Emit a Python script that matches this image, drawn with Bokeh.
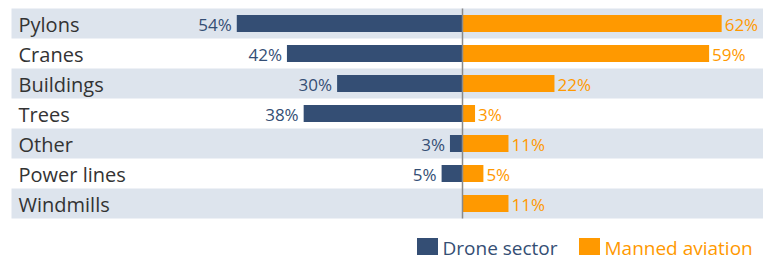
from bokeh.plotting import figure
from bokeh.models import Range1d, ColumnDataSource
from bokeh.core.properties import value
from bokeh.embed import file_html
from bokeh.resources import INLINE

categories = ["Pylons", "Cranes", "Buildings", "Trees", "Other", "Power lines", "Windmills"]
drone = [54, 42, 30, 38, 3, 5, 0]
manned = [62, 59, 22, 3, 11, 5, 11]
series_names = ["Drone sector", "Manned aviation"]

NAVY = "#344e74"
ORANGE = "#ff9900"
BAND = "#dde4ed"
FONT = "Open Sans"

W, H = 763, 260
PX_PER = 4.18          # pixels per percent
CENTER_PX = 462        # center line position within the plot
x0 = -CENTER_PX / PX_PER
x1 = (W - CENTER_PX) / PX_PER
ROW = 30
y_top = -23 / ROW
y_bot = y_top + H / ROW

p = figure(width=W, height=H, output_backend="svg", toolbar_location=None,
           x_range=Range1d(x0, x1), y_range=Range1d(y_bot, y_top),
           min_border=0, outline_line_color=None)
p.axis.visible = False
p.grid.visible = False
p.background_fill_color = "white"
p.border_fill_color = "white"

n = len(categories)
ys = list(range(n))
src = ColumnDataSource(dict(
    y=ys, cat=categories,
    dneg=[-v for v in drone], man=manned,
    dlab=[f"{v}%" if v > 0 else "" for v in drone],
    mlab=[f"{v}%" for v in manned],
    zero=[0] * n,
))

# alternating background bands
band_rows = [i for i in ys if i % 2 == 0]
p.quad(left=[x0 + 11 / PX_PER] * len(band_rows), right=[x1] * len(band_rows),
       top=[i - 0.5 for i in band_rows], bottom=[i + 0.5 for i in band_rows],
       fill_color=BAND, line_color=None)

# bars
p.hbar(y="y", left="dneg", right="zero", height=0.57, source=src,
       fill_color=NAVY, line_color=None)
p.hbar(y="y", left="zero", right="man", height=0.57, source=src,
       fill_color=ORANGE, line_color=None)

# center line
p.segment(x0=[0], y0=[-0.5], x1=[0], y1=[n - 0.5], line_color="#8a8a8a", line_width=1.5)

# category labels
p.text(x=[x0] * n, y=ys, text=categories, x_offset=18, y_offset=1, text_baseline="middle",
       text_align="left", text_font=value(FONT), text_font_size="20px",
       text_color="#333333")

# value labels
p.text(x="dneg", y="y", text="dlab", source=src, x_offset=-5, y_offset=1,
       text_align="right", text_baseline="middle", text_font=value(FONT),
       text_font_size="17px", text_color=NAVY)
p.text(x="man", y="y", text="mlab", source=src, x_offset=3, y_offset=1,
       text_align="left", text_baseline="middle", text_font=value(FONT),
       text_font_size="17px", text_color=ORANGE)

# legend (manual, coloured text)
leg_y = y_top + 246 / ROW
leg_x = [x0 + 427 / PX_PER, x0 + 589 / PX_PER]
p.rect(x=leg_x, y=[leg_y] * 2, width=21, height=17, width_units="screen",
       height_units="screen", fill_color=[NAVY, ORANGE], line_color=None)
p.text(x=leg_x, y=[leg_y] * 2, text=series_names, x_offset=15, y_offset=1,
       text_align="left", text_baseline="middle", text_font=value(FONT),
       text_font_size="19px", text_color=[NAVY, ORANGE])

open("out.html", "w").write(file_html(p, INLINE))
